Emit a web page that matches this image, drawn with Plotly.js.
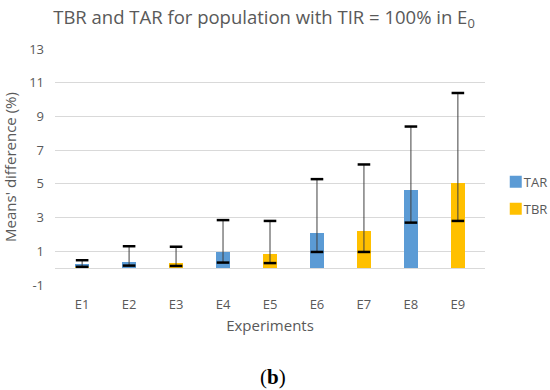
<!DOCTYPE html>
<html>
<head>
<meta charset="utf-8">
<script src="https://cdn.plot.ly/plotly-3.0.1.min.js"></script>
<style>html,body{margin:0;padding:0;background:#fff;}#chart{width:550px;height:390px;}</style>
</head>
<body>
<div id="chart"></div>
<script>
const experiments = ['E1','E2','E3','E4','E5','E6','E7','E8','E9'];
const tarValues = [0.20, 0.39, 0, 0.93, 0, 2.10, 0, 4.63, 0];
const tbrValues = [0.06, 0, 0.33, 0, 0.83, 0, 2.20, 0, 5.03];
const upperValues = [0.47, 1.30, 1.27, 2.85, 2.80, 5.28, 6.15, 8.40, 10.39];
const lowerValues = [0.08, 0.15, 0.13, 0.33, 0.30, 0.96, 0.96, 2.70, 2.80];
const yTicks = [-1, 1, 3, 5, 7, 9, 11, 13];

const grey = '#595959';
const capMarker = {symbol:'line-ew', size:9, color:'#000', line:{width:2.5, color:'#000'}};
const traces = [
  {type:'bar', name:'TBR', legendgroup:'b', legendrank:2, x:experiments, y:tbrValues, marker:{color:'#FFC000'}, hoverinfo:'skip'},
  {type:'bar', name:'TAR', legendgroup:'a', legendrank:1, x:experiments, y:tarValues, marker:{color:'#5B9BD5'}, hoverinfo:'skip'},
  {type:'scatter', mode:'markers', legendgroup:'c', legendrank:3, x:experiments, y:lowerValues, showlegend:false, marker:capMarker,
   error_y:{type:'data', symmetric:false, array:upperValues.map((u,i)=>u-lowerValues[i]), arrayminus:lowerValues.map(()=>0),
            width:0, thickness:1, color:'#404040'}},
  {type:'scatter', mode:'markers', legendgroup:'c', legendrank:4, x:experiments, y:upperValues, showlegend:false, marker:capMarker}
];

const layout = {
  width:550, height:390,
  margin:{l:55, r:65, t:49, b:105, autoexpand:false},
  paper_bgcolor:'#fff', plot_bgcolor:'#fff',
  font:{family:'"Open Sans", sans-serif', color:grey},
  title:{text:'TBR and TAR for population with TIR = 100% in E<sub>0</sub>', font:{size:18.5, color:grey}, x:0.48, xanchor:'center', y:0.955, yanchor:'middle'},
  barmode:'stack', bargap:0.69,
  showlegend:true,
  legend:{x:1.025, xanchor:'left', y:0.38, yanchor:'middle', traceorder:'grouped', tracegroupgap:7, font:{size:13, color:grey}, bgcolor:'rgba(0,0,0,0)'},
  xaxis:{title:{text:'Experiments', font:{size:15, color:grey}, standoff:8}, tickfont:{size:13, color:grey}, ticklabelstandoff:10, showgrid:false, showline:false, ticks:'', fixedrange:true, automargin:false},
  yaxis:{title:{text:"Means' difference (%)", font:{size:15, color:grey}, standoff:12}, range:[-1,13], tickvals:yTicks, ticktext:yTicks.map(String), automargin:false,
         tickfont:{size:13, color:grey}, ticklabelstandoff:10, showgrid:true, gridcolor:'#d9d9d9', gridwidth:1, zeroline:true, zerolinecolor:'#d9d9d9', zerolinewidth:1, showline:false, ticks:'', fixedrange:true},
  annotations:[{text:'(<b>b</b>)', xref:'paper', yref:'paper', x:0.508, y:-0.39, xanchor:'center', yanchor:'middle', showarrow:false,
                font:{family:'"Liberation Serif", serif', size:21, color:'#000'}}]
};
Plotly.newPlot('chart', traces, layout, {displayModeBar:false, staticPlot:true}).then(function(gd){
  gd.querySelectorAll('.legend .legendtext').forEach(function(t){ t.setAttribute('x', 28); });
  gd.querySelectorAll('.legend clipPath rect, .legend .bg').forEach(function(r){
    var w = parseFloat(r.getAttribute('width')||0); if (w < 80) r.setAttribute('width', 80);
  });
});
</script>
</body>
</html>
